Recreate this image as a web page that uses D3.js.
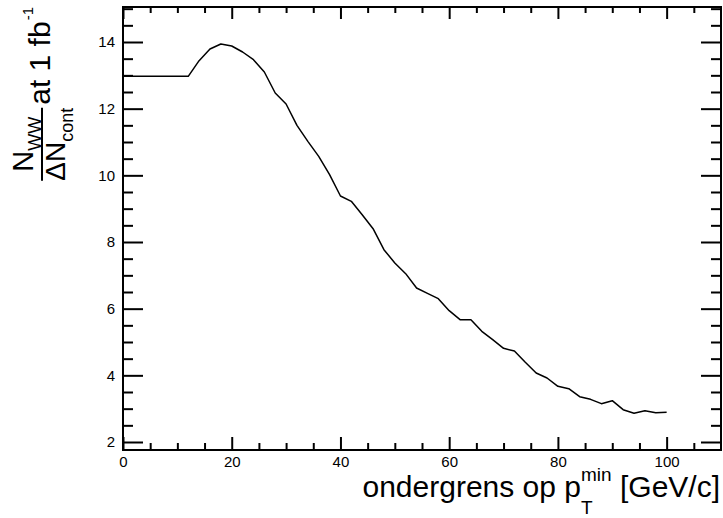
<!DOCTYPE html>
<html>
<head>
<meta charset="utf-8">
<script src="https://cdn.jsdelivr.net/npm/d3@7"></script>
<style>
  body { margin: 0; background: #fff; }
  svg { display: block; font-family: "Liberation Sans", Arial, Helvetica, sans-serif; }
</style>
</head>
<body>
<div id="chart"></div>
<script>
// ---- data ----
const ptMin = [0, 2, 4, 6, 8, 10, 12, 14, 16, 18, 20, 22, 24, 26, 28, 30, 32, 34, 36, 38,
  40, 42, 44, 46, 48, 50, 52, 54, 56, 58, 60, 62, 64, 66, 68, 70, 72, 74, 76, 78,
  80, 82, 84, 86, 88, 90, 92, 94, 96, 98, 100];
const ratio = [12.97, 12.97, 12.97, 12.97, 12.97, 12.97, 12.97, 13.44, 13.79, 13.94,
  13.88, 13.70, 13.47, 13.10, 12.47, 12.14, 11.50, 11.02, 10.57, 10.02,
  9.38, 9.22, 8.82, 8.40, 7.77, 7.37, 7.05, 6.62, 6.46, 6.30,
  5.94, 5.67, 5.67, 5.32, 5.07, 4.81, 4.73, 4.39, 4.07, 3.92,
  3.67, 3.60, 3.36, 3.28, 3.15, 3.24, 2.97, 2.86, 2.94, 2.88, 2.89];

const xMajorTicks = [0, 20, 40, 60, 80, 100];
const yMajorTicks = [2, 4, 6, 8, 10, 12, 14];
const xMinorStep = 5;
const yMinorStep = 0.5;

// ---- frame ----
const W = 723, H = 518;
const frame = { left: 123, right: 721, top: 7, bottom: 450 };

const svg = d3.select('#chart').append('svg')
  .attr('width', W).attr('height', H);

const x = d3.scaleLinear().domain([0, 110]).range([frame.left, frame.right]);
const y = d3.scaleLinear().domain([1.76, 15.05]).range([frame.bottom, frame.top]);

const xMinor = d3.range(0, 110, xMinorStep).filter(v => !xMajorTicks.includes(v));
const yMinor = d3.range(2, 15.01, yMinorStep).filter(v => !yMajorTicks.includes(v));

function styleAxis(g) {
  g.select('.domain').remove();
  g.selectAll('line').attr('stroke', '#000').attr('stroke-width', 2);
  g.attr('font-size', 15).attr('font-family', null);
  g.selectAll('text').attr('fill', '#000');
}

// bottom axis (labels) + minor
svg.append('g').attr('transform', `translate(0,${frame.bottom})`)
  .call(d3.axisBottom(x).tickValues(xMajorTicks).tickSize(-13).tickPadding(6).tickFormat(d3.format('d')))
  .call(styleAxis);
svg.append('g').attr('transform', `translate(0,${frame.bottom})`)
  .call(d3.axisBottom(x).tickValues(xMinor).tickSize(-7).tickFormat(''))
  .call(styleAxis);
// top axis ticks
svg.append('g').attr('transform', `translate(0,${frame.top})`)
  .call(d3.axisTop(x).tickValues(xMajorTicks).tickSize(-12).tickFormat(''))
  .call(styleAxis);
svg.append('g').attr('transform', `translate(0,${frame.top})`)
  .call(d3.axisTop(x).tickValues(xMinor).tickSize(-6).tickFormat(''))
  .call(styleAxis);

// left axis (labels) + minor
svg.append('g').attr('transform', `translate(${frame.left},0)`)
  .call(d3.axisLeft(y).tickValues(yMajorTicks).tickSize(-20).tickPadding(8).tickFormat(d3.format('d')))
  .call(styleAxis);
svg.append('g').attr('transform', `translate(${frame.left},0)`)
  .call(d3.axisLeft(y).tickValues(yMinor).tickSize(-10).tickFormat(''))
  .call(styleAxis);
// right axis ticks
svg.append('g').attr('transform', `translate(${frame.right},0)`)
  .call(d3.axisRight(y).tickValues(yMajorTicks).tickSize(-20).tickFormat(''))
  .call(styleAxis);
svg.append('g').attr('transform', `translate(${frame.right},0)`)
  .call(d3.axisRight(y).tickValues(yMinor).tickSize(-10).tickFormat(''))
  .call(styleAxis);

// frame box
svg.append('rect')
  .attr('x', frame.left).attr('y', frame.top)
  .attr('width', frame.right - frame.left).attr('height', frame.bottom - frame.top)
  .attr('fill', 'none').attr('stroke', '#000').attr('stroke-width', 2);

// the curve
const pts = ptMin.map((v, i) => [v, ratio[i]]);
svg.append('path')
  .datum(pts)
  .attr('fill', 'none')
  .attr('stroke', '#000')
  .attr('stroke-width', 1.5)
  .attr('stroke-linejoin', 'round')
  .attr('d', d3.line().x(d => x(d[0])).y(d => y(d[1])));

// ---- x axis title: ondergrens op p_T^min [GeV/c], right aligned ----
const xt = svg.append('g');
const base = 497;
const t1 = xt.append('text').attr('y', base).attr('font-size', 30).text('ondergrens op p');
const w1 = t1.node().getComputedTextLength();
const tSub = xt.append('text').attr('x', w1).attr('y', base + 17).attr('font-size', 19).text('T');
const tSup = xt.append('text').attr('x', w1).attr('y', base - 16).attr('font-size', 19).text('min');
const w2 = Math.max(tSub.node().getComputedTextLength(), tSup.node().getComputedTextLength());
const t3 = xt.append('text').attr('x', w1 + w2).attr('y', base).attr('font-size', 30).text(' [GeV/c]')
  .attr('xml:space', 'preserve');
const wTot = w1 + w2 + t3.node().getComputedTextLength();
xt.attr('transform', `translate(${720 - wTot},0)`);

// ---- y axis title: N_WW / ΔN_cont at 1 fb^-1, rotated, aligned to top ----
const yt = svg.append('g').attr('transform', 'translate(50,7) rotate(-90)');
const sup = yt.append('text').attr('font-size', 15).attr('y', -17).text('-1');
const wSup = sup.node().getComputedTextLength();
sup.attr('x', -wSup);
const main = yt.append('text').attr('font-size', 30).attr('text-anchor', 'end')
  .attr('x', -wSup - 1).text('at 1 fb');
const wMain = main.node().getComputedTextLength();
const fracEnd = -wSup - 1 - wMain - 3;

const num = yt.append('text').attr('y', -17.5);
num.append('tspan').attr('font-size', 29).text('N');
num.append('tspan').attr('font-size', 18).attr('dy', 8).text('WW');
const den = yt.append('text').attr('y', 15);
den.append('tspan').attr('font-size', 28).text('\u0394N');
den.append('tspan').attr('font-size', 18).attr('dy', 8).text('cont');
const wNum = num.node().getComputedTextLength();
const wDen = den.node().getComputedTextLength();
const wFrac = Math.max(wNum, wDen);
const fracStart = fracEnd - wFrac;
num.attr('x', fracStart + (wFrac - wNum) / 2);
den.attr('x', fracStart + (wFrac - wDen) / 2);
yt.append('line')
  .attr('x1', fracStart).attr('x2', fracEnd)
  .attr('y1', -8).attr('y2', -8)
  .attr('stroke', '#000').attr('stroke-width', 2);
</script>
</body>
</html>
